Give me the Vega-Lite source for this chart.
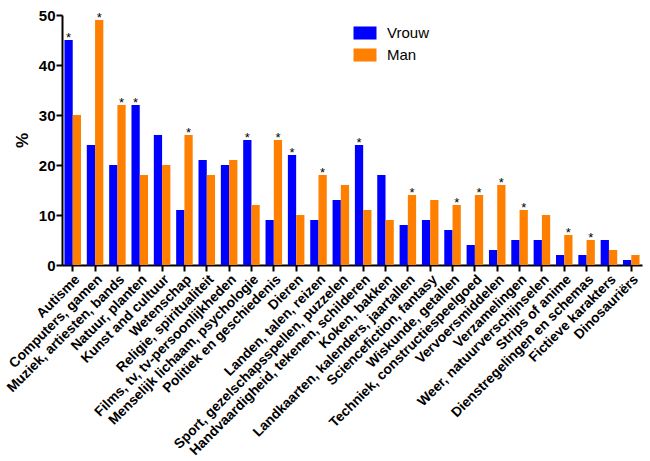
{
  "$schema": "https://vega.github.io/schema/vega-lite/v6.json",
  "width": 580,
  "height": 250,
  "autosize": {"type": "none"},
  "padding": {"left": 62, "top": 15, "right": 8, "bottom": 196},
  "background": "white",
  "config": {
    "view": {"stroke": null},
    "font": "Liberation Sans"
  },
  "data": {
    "values": [
      {"cat": "Autisme", "g": "Vrouw", "v": 45, "sig": "*"},
      {"cat": "Autisme", "g": "Man", "v": 30, "sig": ""},
      {"cat": "Computers, gamen", "g": "Vrouw", "v": 24, "sig": ""},
      {"cat": "Computers, gamen", "g": "Man", "v": 49, "sig": "*"},
      {"cat": "Muziek, artiesten, bands", "g": "Vrouw", "v": 20, "sig": ""},
      {"cat": "Muziek, artiesten, bands", "g": "Man", "v": 32, "sig": "*"},
      {"cat": "Natuur, planten", "g": "Vrouw", "v": 32, "sig": "*"},
      {"cat": "Natuur, planten", "g": "Man", "v": 18, "sig": ""},
      {"cat": "Kunst and cultuur", "g": "Vrouw", "v": 26, "sig": ""},
      {"cat": "Kunst and cultuur", "g": "Man", "v": 20, "sig": ""},
      {"cat": "Wetenschap", "g": "Vrouw", "v": 11, "sig": ""},
      {"cat": "Wetenschap", "g": "Man", "v": 26, "sig": "*"},
      {"cat": "Religie, spiritualiteit", "g": "Vrouw", "v": 21, "sig": ""},
      {"cat": "Religie, spiritualiteit", "g": "Man", "v": 18, "sig": ""},
      {"cat": "Films, tv, tv-persoonlijkheden", "g": "Vrouw", "v": 20, "sig": ""},
      {"cat": "Films, tv, tv-persoonlijkheden", "g": "Man", "v": 21, "sig": ""},
      {"cat": "Menselijk lichaam, psychologie", "g": "Vrouw", "v": 25, "sig": "*"},
      {"cat": "Menselijk lichaam, psychologie", "g": "Man", "v": 12, "sig": ""},
      {"cat": "Politiek en geschiedenis", "g": "Vrouw", "v": 9, "sig": ""},
      {"cat": "Politiek en geschiedenis", "g": "Man", "v": 25, "sig": "*"},
      {"cat": "Dieren", "g": "Vrouw", "v": 22, "sig": "*"},
      {"cat": "Dieren", "g": "Man", "v": 10, "sig": ""},
      {"cat": "Landen, talen, reizen", "g": "Vrouw", "v": 9, "sig": ""},
      {"cat": "Landen, talen, reizen", "g": "Man", "v": 18, "sig": "*"},
      {"cat": "Sport, gezelschapsspellen, puzzelen", "g": "Vrouw", "v": 13, "sig": ""},
      {"cat": "Sport, gezelschapsspellen, puzzelen", "g": "Man", "v": 16, "sig": ""},
      {"cat": "Handvaardigheid, tekenen, schilderen", "g": "Vrouw", "v": 24, "sig": "*"},
      {"cat": "Handvaardigheid, tekenen, schilderen", "g": "Man", "v": 11, "sig": ""},
      {"cat": "Koken, bakken", "g": "Vrouw", "v": 18, "sig": ""},
      {"cat": "Koken, bakken", "g": "Man", "v": 9, "sig": ""},
      {"cat": "Landkaarten, kalenders, jaartallen", "g": "Vrouw", "v": 8, "sig": ""},
      {"cat": "Landkaarten, kalenders, jaartallen", "g": "Man", "v": 14, "sig": "*"},
      {"cat": "Sciencefiction, fantasy", "g": "Vrouw", "v": 9, "sig": ""},
      {"cat": "Sciencefiction, fantasy", "g": "Man", "v": 13, "sig": ""},
      {"cat": "Wiskunde, getallen", "g": "Vrouw", "v": 7, "sig": ""},
      {"cat": "Wiskunde, getallen", "g": "Man", "v": 12, "sig": "*"},
      {"cat": "Techniek, constructiespeelgoed", "g": "Vrouw", "v": 4, "sig": ""},
      {"cat": "Techniek, constructiespeelgoed", "g": "Man", "v": 14, "sig": "*"},
      {"cat": "Vervoersmiddelen", "g": "Vrouw", "v": 3, "sig": ""},
      {"cat": "Vervoersmiddelen", "g": "Man", "v": 16, "sig": "*"},
      {"cat": "Verzamelingen", "g": "Vrouw", "v": 5, "sig": ""},
      {"cat": "Verzamelingen", "g": "Man", "v": 11, "sig": "*"},
      {"cat": "Weer, natuurverschijnselen", "g": "Vrouw", "v": 5, "sig": ""},
      {"cat": "Weer, natuurverschijnselen", "g": "Man", "v": 10, "sig": ""},
      {"cat": "Strips of anime", "g": "Vrouw", "v": 2, "sig": ""},
      {"cat": "Strips of anime", "g": "Man", "v": 6, "sig": "*"},
      {"cat": "Dienstregelingen en schemas", "g": "Vrouw", "v": 2, "sig": ""},
      {"cat": "Dienstregelingen en schemas", "g": "Man", "v": 5, "sig": "*"},
      {"cat": "Fictieve karakters", "g": "Vrouw", "v": 5, "sig": ""},
      {"cat": "Fictieve karakters", "g": "Man", "v": 3, "sig": ""},
      {"cat": "Dinosauriërs", "g": "Vrouw", "v": 1, "sig": ""},
      {"cat": "Dinosauriërs", "g": "Man", "v": 2, "sig": ""}
    ]
  },
  "encoding": {
    "x": {
      "field": "cat",
      "type": "nominal",
      "sort": null,
      "scale": {"paddingInner": 0.26, "paddingOuter": 0.11},
      "axis": {
        "title": null,
        "labelAngle": -45,
        "labelFont": "Liberation Sans",
        "labelFontWeight": "bold",
        "labelFontSize": 13.8,
        "labelColor": "black",
        "labelPadding": 1,
        "labelLimit": 400,
        "labelOverlap": false,
        "domainColor": "black",
        "domainWidth": 2,
        "tickColor": "black",
        "tickWidth": 2,
        "tickSize": 6
      }
    },
    "xOffset": {"field": "g", "type": "nominal", "sort": ["Vrouw", "Man"], "scale": {"paddingInner": 0, "paddingOuter": 0}},
    "y": {
      "field": "v",
      "type": "quantitative",
      "scale": {"domain": [0, 50]},
      "axis": {
        "title": "%",
        "titleFont": "Liberation Sans",
        "titleFontSize": 17,
        "titleFontWeight": "bold",
        "titleColor": "black",
        "titlePadding": 7,
        "values": [0, 10, 20, 30, 40, 50],
        "grid": false,
        "labelFont": "Liberation Sans",
        "labelFontWeight": "bold",
        "labelFontSize": 15,
        "labelColor": "black",
        "labelPadding": 1,
        "domainColor": "black",
        "domainWidth": 2,
        "tickColor": "black",
        "tickWidth": 2,
        "tickSize": 6
      }
    }
  },
  "layer": [
    {
      "mark": {"type": "bar", "stroke": null},
      "encoding": {
        "color": {
          "field": "g",
          "type": "nominal",
          "sort": ["Vrouw", "Man"],
          "scale": {"domain": ["Vrouw", "Man"], "range": ["#0000FF", "#FF8000"]},
          "legend": {
            "title": null,
            "orient": "none",
            "legendX": 295,
            "legendY": 10,
            "symbolType": "M-1.5,-0.85H1.5V0.85H-1.5Z",
            "symbolSize": 235,
            "symbolStrokeWidth": 0,
            "symbolOpacity": 1,
            "labelFont": "Liberation Sans",
            "labelFontSize": 15,
            "labelColor": "black",
            "labelOffset": 14,
            "rowPadding": 6
          }
        }
      }
    },
    {
      "mark": {"type": "text", "baseline": "alphabetic", "dy": 2, "fontSize": 13, "color": "black", "font": "Liberation Sans"},
      "encoding": {
        "text": {"field": "sig"}
      }
    }
  ]
}
